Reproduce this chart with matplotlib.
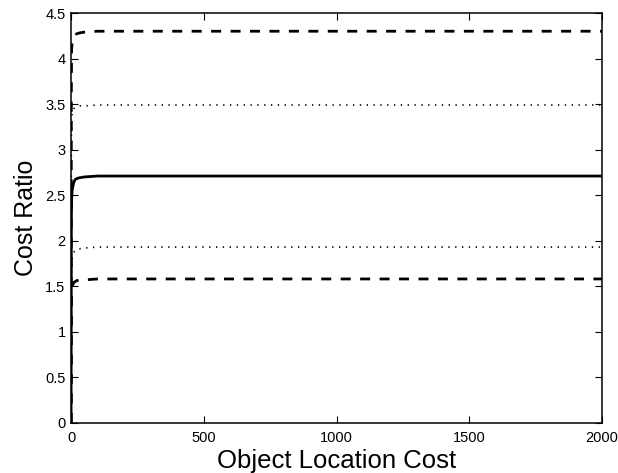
import numpy as np
import matplotlib.pyplot as plt

plt.rcParams['font.family'] = ['Liberation Sans', 'DejaVu Sans']

# object location cost samples and cost ratio curves
cost = [0, 1, 2, 4, 7, 10, 15, 20, 30, 50, 100, 200, 500, 1000, 1500, 2000]
upper_dash = [0, 3.6, 4.1, 4.18, 4.2, 4.22, 4.25, 4.27, 4.28, 4.29, 4.3, 4.3, 4.3, 4.3, 4.3, 4.3]
upper_dot = [0, 3.0, 3.3, 3.4, 3.43, 3.45, 3.46, 3.47, 3.48, 3.48, 3.49, 3.49, 3.49, 3.49, 3.49, 3.49]
mean_line = [0, 2.2, 2.45, 2.55, 2.6, 2.64, 2.67, 2.68, 2.69, 2.7, 2.71, 2.71, 2.71, 2.71, 2.71, 2.71]
lower_dot = [0, 1.6, 1.75, 1.82, 1.85, 1.87, 1.89, 1.9, 1.91, 1.92, 1.93, 1.93, 1.93, 1.93, 1.93, 1.93]
lower_dash = [0, 1.3, 1.45, 1.5, 1.52, 1.54, 1.55, 1.56, 1.57, 1.57, 1.58, 1.58, 1.58, 1.58, 1.58, 1.58]

fig = plt.figure(figsize=(6.18, 4.73), dpi=100)
ax = fig.add_axes([0.115, 0.106, 0.859, 0.8665])

ax.plot(cost, upper_dash, 'k--', linewidth=2, dashes=(3.6, 3.4))
ax.plot(cost, upper_dot, 'k:', linewidth=1.2, dashes=(0.8, 3.3))
ax.plot(cost, mean_line, 'k-', linewidth=2)
ax.plot(cost, lower_dot, 'k:', linewidth=1.2, dashes=(0.8, 3.3))
ax.plot(cost, lower_dash, 'k--', linewidth=2, dashes=(3.6, 3.4))

ax.set_xlim(0, 2000)
ax.set_ylim(0, 4.5)
ax.set_xticks([0, 500, 1000, 1500, 2000])
ax.set_yticks(np.arange(0, 4.51, 0.5))
ax.set_yticklabels(['0', '0.5', '1', '1.5', '2', '2.5', '3', '3.5', '4', '4.5'])
ax.tick_params(direction='in', top=True, right=True, labelsize=10.5, length=5, pad=4)
ax.tick_params(axis='x', pad=6)
for s in ax.spines.values():
    s.set_linewidth(1.1)
ax.set_xlabel('Object Location Cost', fontsize=18.5, labelpad=3)
ax.set_ylabel('Cost Ratio', fontsize=18, labelpad=5)

fig.savefig('out.png', dpi=100)
